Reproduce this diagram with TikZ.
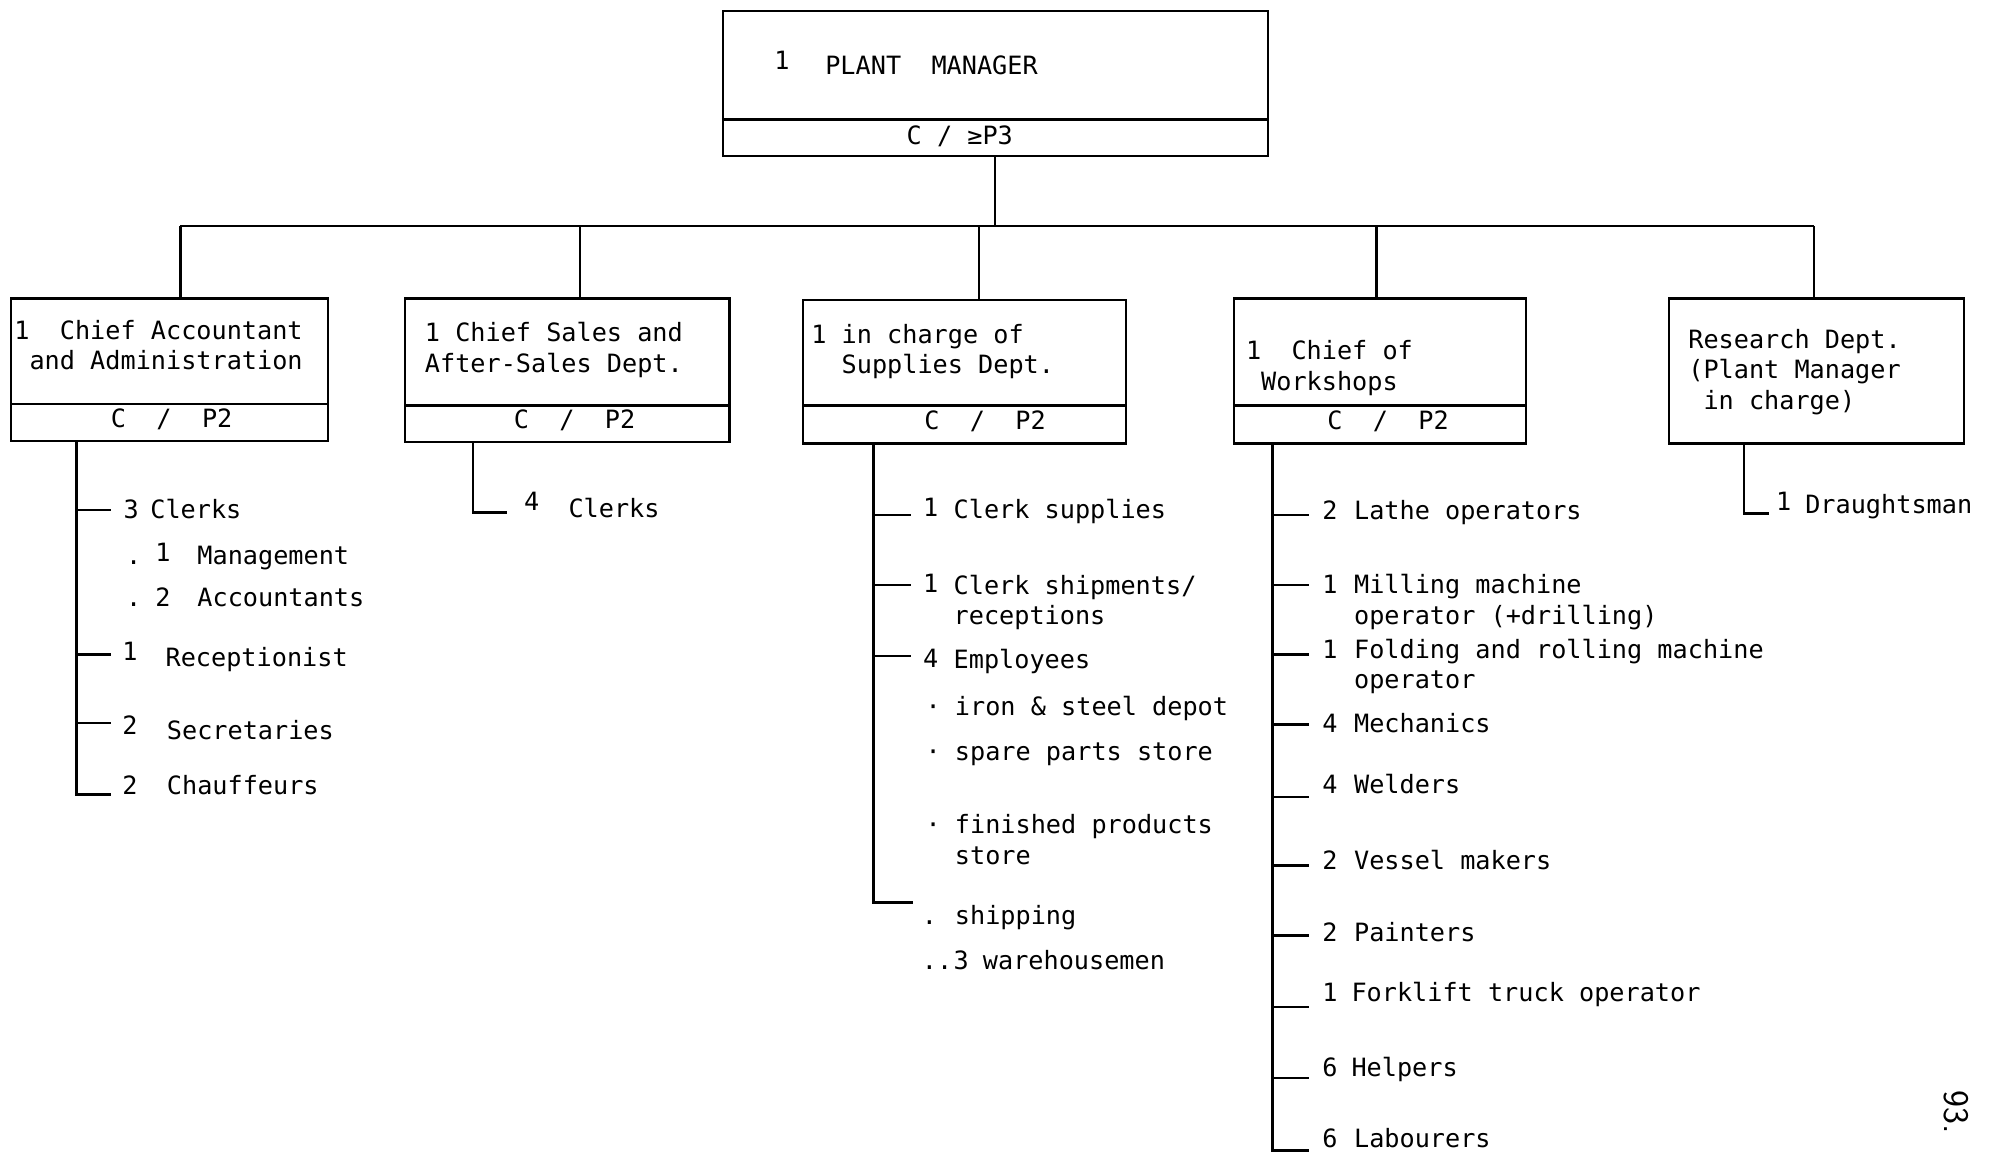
\documentclass[tikz,border=0pt]{standalone}
\usepackage{fontspec}
\setmonofont{DejaVu Sans Mono}
\begin{document}
\begin{tikzpicture}[x=0.6355pt,y=-0.6355pt,
  t/.style={font=\ttfamily\fontsize{12.6}{15}\selectfont, anchor=base west, inner sep=0pt},
  ln/.style={line width=1.1pt},
  trunk/.style={line width=1.3pt},
  box/.style={draw, line width=1.1pt, anchor=north west, inner sep=0pt}]
\useasboundingbox (0,0) rectangle (1568,909);

% ---------- boxes ----------
\node[box, minimum width={429*0.6355pt}, minimum height={114*0.6355pt}] (pm) at (568,8) {};
\draw[ln] (568,94) -- (997,94);
\node[box, minimum width={249*0.6355pt}, minimum height={112*0.6355pt}] (b1) at (8,234) {};
\draw[ln] (8,318) -- (257,318);
\node[box, minimum width={255*0.6355pt}, minimum height={113*0.6355pt}] (b2) at (318,234) {};
\draw[ln] (318,319) -- (573,319);
\node[box, minimum width={254*0.6355pt}, minimum height={113*0.6355pt}] (b3) at (631,235) {};
\draw[ln] (631,319) -- (885,319);
\node[box, minimum width={230*0.6355pt}, minimum height={114*0.6355pt}] (b4) at (970,234) {};
\draw[ln] (970,319) -- (1200,319);
\node[box, minimum width={232*0.6355pt}, minimum height={114*0.6355pt}] (b5) at (1312,234) {};

% ---------- box texts ----------
\node[t] (pmn) at (609,55) {1};
\node[t] (pmt) at (649,59) {PLANT~~MANAGER};
\node[t] (pmc) at (713,114) {C~/~≥P3};

\node[t] (b1a) at (11,267) {1~~Chief Accountant};
\node[t] (b1b) at (11,291) {~and Administration};
\node[t] (b1c) at (87,336) {C~~/~~P2};

\node[t] (b2a) at (334,269) {1~Chief Sales and};
\node[t] (b2b) at (334,293) {After-Sales Dept.};
\node[t] (b2c) at (404,337) {C~~/~~P2};

\node[t] (b3a) at (638,270) {1~in charge of};
\node[t] (b3b) at (638,294) {~~Supplies Dept.};
\node[t] (b3c) at (727,338) {C~~/~~P2};

\node[t] (b4a) at (980,283) {1~~Chief of};
\node[t] (b4b) at (980,307) {~Workshops};
\node[t] (b4c) at (1044,338) {C~~/~~P2};

\node[t] (b5a) at (1328,274) {Research Dept.};
\node[t] (b5b) at (1328,298) {(Plant Manager};
\node[t] (b5c) at (1328,322) {~in charge)};

% ---------- top connectors ----------
\coordinate (bar) at (783,178);
\coordinate (d1) at (142,178);
\coordinate (d2) at (456,178);
\coordinate (d3) at (770,178);
\coordinate (d4) at (1083,178);
\coordinate (d5) at (1427,178);
\draw[ln] (pm.south -| bar) -- (bar);
\draw[ln] (d1) -- (d5);
\draw[ln] (d1) -- (d1 |- b1.north);
\draw[ln] (d2) -- (d2 |- b2.north);
\draw[ln] (d3) -- (d3 |- b3.north);
\draw[ln] (d4) -- (d4 |- b4.north);
\draw[ln] (d5) -- (d5 |- b5.north);

% ---------- subtree 1 ----------
\coordinate (e1) at (60,625);
\draw[trunk] (e1 |- b1.south) -- (e1) -- (87,625);
\draw[ln] (60,401) -- (87,401);
\draw[ln] (60,515) -- (87,515);
\draw[ln] (60,569) -- (87,569);
\node[t] (a1n) at (97,408) {3};
\node[t] (a1) at (118,408) {Clerks};
\node[t] (a2d) at (99,444) {.};
\node[t] (a2n) at (122,442) {1};
\node[t] (a2) at (155,444) {Management};
\node[t] (a3d) at (99,477) {.};
\node[t] (a3n) at (122,477) {2};
\node[t] (a3) at (155,477) {Accountants};
\node[t] (a4n) at (96,520) {1};
\node[t] (a4) at (130,524) {Receptionist};
\node[t] (a5n) at (96,578) {2};
\node[t] (a5) at (131,582) {Secretaries};
\node[t] (a6n) at (96,625) {2};
\node[t] (a6) at (131,625) {Chauffeurs};

% ---------- subtree 2 ----------
\coordinate (e2) at (372,403);
\draw[trunk] (e2 |- b2.south) -- (e2) -- (399,403);
\node[t] (c1n) at (412,402) {4};
\node[t] (c1) at (447,407) {Clerks};

% ---------- subtree 3 ----------
\coordinate (e3) at (687,710);
\draw[trunk] (e3 |- b3.south) -- (e3) -- (718,710);
\draw[ln] (687,405) -- (717,405);
\draw[ln] (687,460) -- (717,460);
\draw[ln] (687,516) -- (717,516);
\node[t] (s1n) at (726,406) {1};
\node[t] (s1) at (750,408) {Clerk supplies};
\node[t] (s2n) at (726,466) {1};
\node[t] (s2) at (750,468) {Clerk shipments/};
\node[t] (s2b) at (750,491) {receptions};
\node[t] (s3n) at (726,525) {4};
\node[t] (s3) at (750,526) {Employees};
\node[t] (s4d) at (728,563) {·};
\node[t] (s4) at (751,563) {iron \& steel depot};
\node[t] (s5d) at (728,598) {·};
\node[t] (s5) at (751,598) {spare parts store};
\node[t] (s6d) at (728,656) {·};
\node[t] (s6) at (751,656) {finished products};
\node[t] (s6b) at (751,680) {store};
\node[t] (s7d) at (725,727) {.};
\node[t] (s7) at (751,727) {shipping};
\node[t] (s8d) at (725,763) {..};
\node[t] (s8n) at (750,763) {3};
\node[t] (s8) at (773,763) {warehousemen};

% ---------- subtree 4 ----------
\coordinate (e4) at (1001,905);
\draw[trunk] (e4 |- b4.south) -- (e4) -- (1030,905);
\foreach \yy in {405,460,515,570,627,681,736,792,848}
  \draw[ln] (1001,\yy) -- (1030,\yy);
\node[t] (w1n) at (1040,409) {2};
\node[t] (w1) at (1065,409) {Lathe operators};
\node[t] (w2n) at (1040,467) {1};
\node[t] (w2) at (1065,467) {Milling machine};
\node[t] (w2b) at (1065,491) {operator (+drilling)};
\node[t] (w3n) at (1040,518) {1};
\node[t] (w3) at (1065,518) {Folding and rolling machine};
\node[t] (w3b) at (1065,542) {operator};
\node[t] (w4n) at (1040,576) {4};
\node[t] (w4) at (1065,576) {Mechanics};
\node[t] (w5n) at (1040,624) {4};
\node[t] (w5) at (1065,624) {Welders};
\node[t] (w6n) at (1040,684) {2};
\node[t] (w6) at (1065,684) {Vessel makers};
\node[t] (w7n) at (1040,741) {2};
\node[t] (w7) at (1065,741) {Painters};
\node[t] (w8n) at (1040,788) {1};
\node[t] (w8) at (1063,788) {Forklift truck operator};
\node[t] (w9n) at (1040,847) {6};
\node[t] (w9) at (1063,847) {Helpers};
\node[t] (w10n) at (1040,903) {6};
\node[t] (w10) at (1065,903) {Labourers};

% ---------- subtree 5 ----------
\coordinate (e5) at (1372,404);
\draw[trunk] (e5 |- b5.south) -- (e5) -- (1392,404);
\node[t] (r1n) at (1397,402) {1};
\node[t] (r1) at (1420,404) {Draughtsman};

% ---------- page number ----------
\node[font=\sffamily\fontsize{18}{18}\selectfont, rotate=-90, inner sep=0pt] (pg) at (1539,875) {93.};
\end{tikzpicture}
\end{document}
